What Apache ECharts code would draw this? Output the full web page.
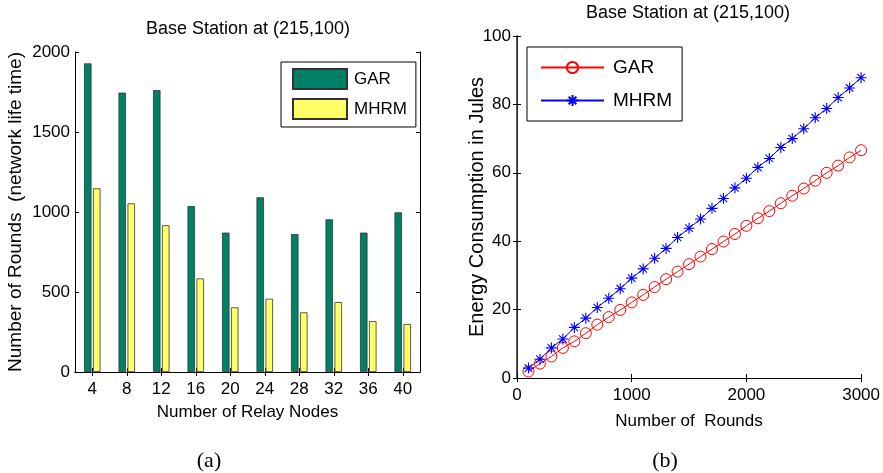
<!DOCTYPE html>
<html>
<head>
<meta charset="utf-8">
<script src="https://cdn.jsdelivr.net/npm/echarts@6/dist/echarts.min.js"></script>
<style>
html,body{margin:0;padding:0;background:#fff;}
#c{width:883px;height:473px;}
</style>
</head>
<body>
<div id="c"></div>
<script>
// ---- data (a) ----
const relayNodes = ['4','8','12','16','20','24','28','32','36','40'];
const garRounds  = [1929,1746,1762,1037,871,1092,862,954,871,998];
const mhrmRounds = [1148,1054,917,585,404,458,373,437,318,300];
const leftYTicks = [0,500,1000,1500,2000];

// ---- data (b) ----
const rounds = [100,200,300,400,500,600,700,800,900,1000,1100,1200,1300,1400,1500,
                1600,1700,1800,1900,2000,2100,2200,2300,2400,2500,2600,2700,2800,2900,3000];
const garEnergy  = [1.9,4.2,6.3,8.8,10.7,13.1,15.6,17.8,19.9,22.1,24.3,26.6,28.9,31.1,33.3,
                    35.5,37.7,39.9,42.1,44.5,46.7,48.8,51.1,53.3,55.4,57.7,60.0,62.1,64.5,66.6];
const mhrmEnergy = [2.9,5.5,8.8,11.4,14.8,17.5,20.6,23.3,26.1,29.2,31.9,35.0,37.9,41.1,43.8,
                    46.5,49.6,52.5,55.6,58.4,61.6,64.2,67.4,70.0,72.9,76.1,78.8,82.0,84.8,87.8];
const rightXTicks = [0,1000,2000,3000];
const rightYTicks = [0,20,40,60,80,100];

const FONT = 'Liberation Sans, Arial, Helvetica, sans-serif';
const FS = 17;
const STAR = 'path://M0,5L10,5M5,0L5,10M1.6,1.6L8.4,8.4M1.6,8.4L8.4,1.6';

const chart = echarts.init(document.getElementById('c'), null, {renderer:'canvas'});

function axLine(w, c){ return {show:true, lineStyle:{color:c || '#000', width:w || 1}}; }
function baseLabel(m){ return {color:'#000', fontFamily:FONT, fontSize:FS, margin:m,
                               formatter:function(v){return String(v);}}; }
function tick(){ return {show:true, inside:true, length:4, lineStyle:{color:'#000'}}; }

const option = {
  backgroundColor:'#fff',
  animation:false,
  textStyle:{fontFamily:FONT},
  title:[
    {text:'Base Station at (215,100)', left:248, top:20, textAlign:'center', padding:0,
     textStyle:{fontFamily:FONT, fontSize:18, fontWeight:'normal', color:'#000'}},
    {text:'Base Station at (215,100)', left:688, top:4, textAlign:'center', padding:0,
     textStyle:{fontFamily:FONT, fontSize:18, fontWeight:'normal', color:'#000'}},
    {text:'(a)', left:209, top:450, textAlign:'center', padding:0,
     textStyle:{fontFamily:'Liberation Serif, Times New Roman, serif', fontSize:22, fontWeight:'normal', color:'#000'}},
    {text:'(b)', left:665, top:450, textAlign:'center', padding:0,
     textStyle:{fontFamily:'Liberation Serif, Times New Roman, serif', fontSize:22, fontWeight:'normal', color:'#000'}}
  ],
  legend:[
    {
      data:[{name:'GAR', icon:'rect'},{name:'MHRM', icon:'rect'}], orient:'vertical', left:281, top:62,
      itemWidth:54, itemHeight:20, itemGap:8, padding:[6,9,7,11],
      borderColor:'#000', borderWidth:1, backgroundColor:'#fff',
      textStyle:{fontFamily:FONT, fontSize:FS, color:'#000', padding:[0,0,0,2]},
      selectedMode:false
    },
    {
      data:['GAR ','MHRM '], orient:'vertical', left:527, top:47,
      itemWidth:63, itemHeight:14, itemGap:14, padding:[11,10,11,13],
      borderColor:'#000', borderWidth:1, backgroundColor:'#fff',
      formatter:function(n){return n.trim();},
      textStyle:{fontFamily:FONT, fontSize:19, color:'#000', padding:[0,0,0,4]},
      selectedMode:false
    }
  ],
  grid:[
    {left:75, top:52, width:345, height:320, containLabel:false},
    {left:517, top:36, width:345, height:342, containLabel:false}
  ],
  xAxis:[
    {gridIndex:0, type:'category', data:relayNodes, position:'bottom',
     boundaryGap:true, axisLine:axLine(),
     axisTick:{show:true, inside:true, alignWithLabel:true, length:4, lineStyle:{color:'#000'}},
     axisLabel:baseLabel(9), splitLine:{show:false},
     name:'Number of Relay Nodes', nameLocation:'middle', nameGap:32, nameMoveOverlap:false,
     nameTextStyle:{fontFamily:FONT, fontSize:FS, color:'#000'}},
    {gridIndex:0, type:'category', data:relayNodes, position:'top',
     boundaryGap:true, axisLine:axLine(),
     axisTick:{show:true, inside:true, alignWithLabel:true, length:4, lineStyle:{color:'#000'}},
     axisLabel:{show:false}, splitLine:{show:false}},
    {gridIndex:1, type:'value', min:rightXTicks[0], max:rightXTicks[rightXTicks.length-1], interval:1000,
     position:'bottom', axisLine:axLine(),
     axisTick:tick(),
     axisLabel:baseLabel(9), splitLine:{show:false},
     name:'Number of  Rounds', nameLocation:'middle', nameGap:35, nameMoveOverlap:false,
     nameTextStyle:{fontFamily:FONT, fontSize:FS, color:'#000'}},
    {gridIndex:1, type:'value', min:rightXTicks[0], max:rightXTicks[rightXTicks.length-1], interval:1000,
     position:'top', axisLine:axLine(),
     axisTick:tick(),
     axisLabel:{show:false}, splitLine:{show:false}}
  ],
  yAxis:[
    {gridIndex:0, type:'value', min:leftYTicks[0], max:leftYTicks[leftYTicks.length-1], interval:500,
     position:'left', axisLine:axLine(),
     axisTick:tick(),
     axisLabel:baseLabel(5), splitLine:{show:false},
     name:'Number of Rounds  (network life time)', nameLocation:'middle', nameGap:50, nameMoveOverlap:false,
     nameTextStyle:{fontFamily:FONT, fontSize:19, color:'#000'}},
    {gridIndex:0, type:'value', min:leftYTicks[0], max:leftYTicks[leftYTicks.length-1], interval:500,
     position:'right', axisLine:axLine(),
     axisTick:tick(),
     axisLabel:{show:false}, splitLine:{show:false}},
    {gridIndex:1, type:'value', min:rightYTicks[0], max:rightYTicks[rightYTicks.length-1], interval:20,
     position:'left', axisLine:axLine(),
     axisTick:tick(),
     axisLabel:baseLabel(6), splitLine:{show:false},
     name:'Energy Consumption in Jules', nameLocation:'middle', nameGap:30, nameMoveOverlap:false,
     nameTextStyle:{fontFamily:FONT, fontSize:20, color:'#000'}},
    {gridIndex:1, type:'value', min:rightYTicks[0], max:rightYTicks[rightYTicks.length-1], interval:20,
     position:'right', axisLine:axLine(1.6, '#333'),
     axisTick:tick(),
     axisLabel:{show:false}, splitLine:{show:false}}
  ],
  series:[
    {name:'GAR', type:'bar', xAxisIndex:0, yAxisIndex:0, data:garRounds,
     barWidth:7.5, barGap:'20%',
     itemStyle:{color:'#008066', borderColor:'#333', borderWidth:0.8}},
    {name:'MHRM', type:'bar', xAxisIndex:0, yAxisIndex:0, data:mhrmRounds,
     barWidth:7.5, barGap:'20%',
     itemStyle:{color:'#FFFF66', borderColor:'#333', borderWidth:0.8}},
    {name:'GAR ', type:'line', xAxisIndex:2, yAxisIndex:2,
     data:rounds.map((r,i)=>[r, garEnergy[i]]),
     symbol:'circle', symbolSize:11,
     lineStyle:{color:'#FF0000', width:1},
     itemStyle:{color:'rgba(0,0,0,0)', borderColor:'#FF0000', borderWidth:1}},
    {name:'MHRM ', type:'line', xAxisIndex:2, yAxisIndex:2,
     data:rounds.map((r,i)=>[r, mhrmEnergy[i]]),
     symbol:STAR, symbolSize:11,
     lineStyle:{color:'#0000FF', width:1},
     itemStyle:{color:'#0000FF', borderColor:'#0000FF', borderWidth:1.1}}
  ]
};
chart.setOption(option);
</script>
</body>
</html>
